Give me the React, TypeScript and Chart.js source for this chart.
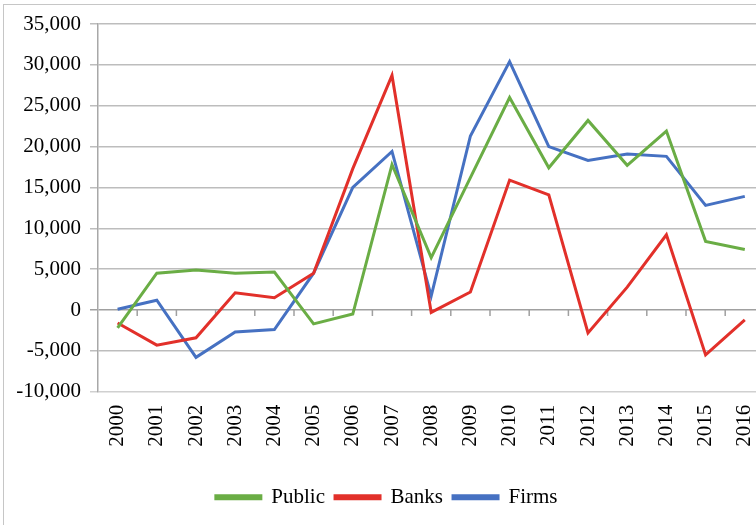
import React, { useEffect, useRef } from "react";
import { Chart, registerables } from "chart.js";

Chart.register(...registerables);

const years = ["2000","2001","2002","2003","2004","2005","2006","2007","2008","2009","2010","2011","2012","2013","2014","2015","2016"];
const publicValues = [-2200, 4500, 4900, 4500, 4650, -1700, -500, 17800, 6400, 16200, 26000, 17400, 23200, 17700, 21900, 8400, 7400];
const banksValues = [-1600, -4300, -3400, 2100, 1500, 4500, 17300, 28700, -300, 2200, 15900, 14100, -2800, 2800, 9200, -5500, -1200];
const firmsValues = [100, 1200, -5800, -2700, -2400, 4500, 15000, 19400, 1700, 21300, 30400, 20000, 18300, 19100, 18800, 12800, 13900];
const yMin = -10000;
const yMax = 35000;
const yStep = 5000;

const FONT = "'Liberation Serif', 'Times New Roman', serif";

const zeroTicks = {
  id: "zeroTicks",
  beforeDatasetsDraw(chart: any) {
    const x = chart.scales.x;
    const y = chart.scales.y;
    const ctx = chart.ctx;
    const y0 = y.getPixelForValue(0);
    const n = chart.data.labels.length;
    const step = (x.right - x.left) / n;
    ctx.save();
    ctx.strokeStyle = "#a0a0a0";
    ctx.lineWidth = 1.5;
    ctx.beginPath();
    for (let i = 1; i <= n; i++) {
      const px = x.left + step * i;
      ctx.moveTo(px, y0);
      ctx.lineTo(px, y0 + 6);
    }
    ctx.stroke();
    ctx.restore();
  },
};

export default function App() {
  const ref = useRef<HTMLCanvasElement | null>(null);
  useEffect(() => {
    document.body.style.margin = "0";
    document.body.style.background = "#ffffff";
    const chart = new Chart(ref.current as HTMLCanvasElement, {
      type: "line",
      data: {
        labels: years,
        datasets: [
          { label: "Public", data: publicValues, borderColor: "#6aad45", backgroundColor: "#6aad45", borderWidth: 3, pointRadius: 0, tension: 0 },
          { label: "Banks", data: banksValues, borderColor: "#e2302a", backgroundColor: "#e2302a", borderWidth: 3, pointRadius: 0, tension: 0 },
          { label: "Firms", data: firmsValues, borderColor: "#4671c2", backgroundColor: "#4671c2", borderWidth: 3, pointRadius: 0, tension: 0 },
        ],
      },
      options: {
        animation: false,
        responsive: false,
        maintainAspectRatio: false,
        devicePixelRatio: 1,
        layout: { padding: { top: 19, left: 5, right: 4.6, bottom: 27.3 } },
        plugins: {
          tooltip: { enabled: false },
          legend: {
            position: "bottom",
            labels: {
              font: { family: FONT, size: 21 },
              color: "#000",
              boxWidth: 45,
              boxHeight: 3,
              padding: 10,
            },
          },
        },
        scales: {
          x: {
            offset: true,
            grid: { display: false, drawTicks: false },
            border: { display: false },
            ticks: {
              font: { family: FONT, size: 21 },
              color: "#000",
              minRotation: 90,
              maxRotation: 90,
              padding: 13,
              autoSkip: false,
            },
            afterFit(scale: any) {
              scale.height = 85;
              scale.paddingLeft = 0;
              scale.paddingRight = 0;
            },
          },
          y: {
            min: yMin,
            max: yMax,
            border: { display: true, color: "#a8a8a8", width: 1.5 },
            grid: {
              color: (c: any) => (c.tick && c.tick.value === 0 ? "#a0a0a0" : c.tick && c.tick.value === yMin ? "#d0d0d0" : "#bdbdbd"),
              lineWidth: 1.5,
              tickLength: 8,
            },
            ticks: {
              stepSize: yStep,
              font: { family: FONT, size: 21 },
              color: "#000",
              padding: 9,
              callback: (v: any) => Number(v).toLocaleString("en-US"),
            },
            afterFit(scale: any) {
              scale.width = 89;
              scale.paddingTop = 0;
              scale.paddingBottom = 0;
            },
          },
        },
      },
      plugins: [zeroTicks],
    });
    return () => chart.destroy();
  }, []);

  return (
    <div style={{ position: "fixed", left: 0, top: 0, width: "100vw", height: "100vh", overflow: "hidden", background: "#fff" }}>
      <div style={{ position: "absolute", left: 3, top: 4, width: 767, height: 545, border: "1px solid #c6c6c6" }}>
        <canvas ref={ref} width={765} height={540} style={{ display: "block", width: 765, height: 540 }} />
      </div>
    </div>
  );
}
